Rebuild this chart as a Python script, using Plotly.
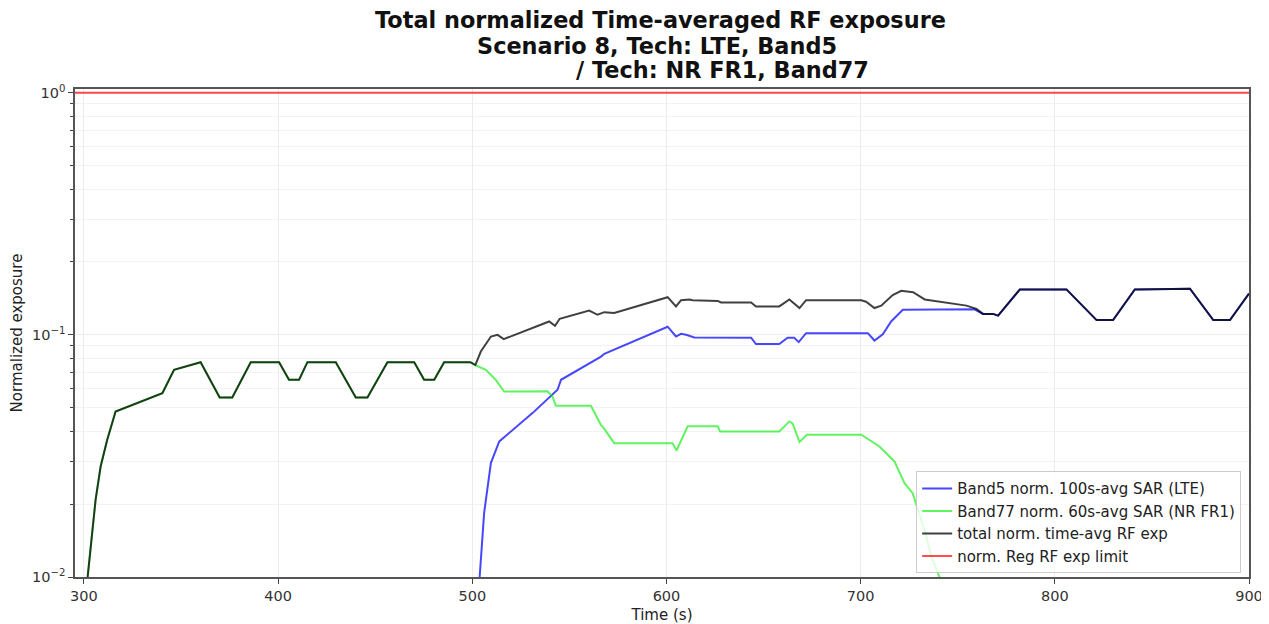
import plotly.graph_objects as go

# ---------------- data ----------------
total_t = [301.0, 306.0, 308.6, 312.0, 316.3, 340.4, 346.4, 360.1, 369.9, 376.4,
           385.9, 400.5, 405.6, 410.8, 415.1, 429.7, 440.0, 446.0, 456.3, 470.1,
           475.2, 480.4, 485.5, 499.0, 501.6, 504.4, 509.6, 513.0, 516.2, 539.6,
           542.6, 545.0, 560.2, 564.5, 568.0, 573.1, 600.6, 604.9, 607.5, 611.8,
           613.5, 626.4, 628.1, 643.6, 646.1, 658.1, 663.3, 668.5, 671.9, 700.3,
           702.8, 707.1, 710.6, 716.5, 720.9, 727.0, 733.0, 754.5, 759.6, 763.0,
           768.2, 770.8, 782.0, 806.0, 821.5, 830.0, 841.2, 866.2, 869.6, 881.6,
           890.2, 900.0]
total_v = [0.0085, 0.0208, 0.0286, 0.0369, 0.0482, 0.0574, 0.0717, 0.0771, 0.0551, 0.0551,
           0.0771, 0.0771, 0.0652, 0.0652, 0.0771, 0.0771, 0.0551, 0.0551, 0.0771, 0.0771,
           0.0652, 0.0652, 0.0771, 0.0771, 0.0752, 0.0853, 0.0984, 0.1000, 0.0960, 0.1135,
           0.1090, 0.1165, 0.1260, 0.1210, 0.1240, 0.1230, 0.1430, 0.1310, 0.1390, 0.1400,
           0.1390, 0.1380, 0.1360, 0.1360, 0.1310, 0.1310, 0.1400, 0.1290, 0.1390, 0.1390,
           0.1370, 0.1290, 0.1320, 0.1460, 0.1520, 0.1500, 0.1400, 0.1320, 0.1280, 0.1220,
           0.1220, 0.1200, 0.1540, 0.1540, 0.1150, 0.1150, 0.1540, 0.1540, 0.1550, 0.1150,
           0.1150, 0.1480]

band5_t = [503.4, 506.1, 509.6, 513.9, 531.0, 543.9, 545.7, 566.3, 568.0, 600.6,
           604.9, 607.5, 610.1, 614.4, 643.6, 646.1, 658.1, 662.4, 665.8, 668.1,
           671.9, 703.7, 707.1, 711.4, 715.7, 721.7, 758.6, 763.0, 768.2, 770.8,
           782.0, 806.0, 821.5, 830.0, 841.2, 866.2, 869.6, 881.6, 890.2, 900.0]
band5_v = [0.0090, 0.0184, 0.0296, 0.0363, 0.0475, 0.0593, 0.0652, 0.0813, 0.0835, 0.1080,
           0.0984, 0.1010, 0.1000, 0.0975, 0.0973, 0.0916, 0.0916, 0.0973, 0.0973, 0.0933,
           0.1016, 0.1016, 0.0947, 0.1005, 0.1135, 0.1270, 0.1275, 0.1220, 0.1220, 0.1200,
           0.1540, 0.1540, 0.1150, 0.1150, 0.1540, 0.1540, 0.1550, 0.1150, 0.1150, 0.1480]

band77_t = [301.0, 306.0, 308.6, 312.0, 316.3, 340.4, 346.4, 360.1, 369.9, 376.4,
            385.9, 400.5, 405.6, 410.8, 415.1, 429.7, 440.0, 446.0, 456.3, 470.1,
            475.2, 480.4, 485.5, 499.0, 501.0, 507.0, 512.1, 516.4, 538.7, 541.3,
            543.0, 561.1, 566.2, 567.9, 573.1, 603.1, 605.2, 607.5, 610.9, 626.4,
            627.6, 658.1, 663.3, 665.0, 668.5, 672.3, 700.3, 709.7, 717.4, 722.6,
            726.8, 733.4, 736.3, 740.6, 742.0]
band77_v = [0.0085, 0.0208, 0.0286, 0.0369, 0.0482, 0.0574, 0.0717, 0.0771, 0.0551, 0.0551,
            0.0771, 0.0771, 0.0652, 0.0652, 0.0771, 0.0771, 0.0551, 0.0551, 0.0771, 0.0771,
            0.0652, 0.0652, 0.0771, 0.0771, 0.0752, 0.0717, 0.0652, 0.0583, 0.0585, 0.0557,
            0.0509, 0.0509, 0.0425, 0.0410, 0.0357, 0.0357, 0.0333, 0.0366, 0.0419, 0.0419,
            0.0399, 0.0399, 0.0439, 0.0430, 0.0361, 0.0387, 0.0387, 0.0346, 0.0300, 0.0244,
            0.0222, 0.0151, 0.0122, 0.0100, 0.0090]

limit_t = [295.4, 900.0]
limit_v = [1.0, 1.0]

x_ticks = [300, 400, 500, 600, 700, 800, 900]
y_ticks = [0.01, 0.1, 1.0]
y_tick_text = ["10<sup>\u22122</sup>", "10<sup>\u22121</sup>", "10<sup>0</sup>"]
y_minor = [m * d for d in (0.01, 0.1) for m in range(2, 10)]

names = ["Band5 norm. 100s-avg SAR (LTE)", "Band77 norm. 60s-avg SAR (NR FR1)",
         "total norm. time-avg RF exp", "norm. Reg RF exp limit"]

title_lines = ["Total normalized Time-averaged RF exposure",
               "Scenario 8, Tech: LTE, Band5",
               "/ Tech: NR FR1, Band77"]

FONT = "DejaVu Sans"

fig = go.Figure()
fig.add_trace(go.Scatter(x=band5_t, y=band5_v, mode="lines", name=names[0],
                         line=dict(color="rgba(0,0,255,0.72)", width=2)))
fig.add_trace(go.Scatter(x=band77_t, y=band77_v, mode="lines", name=names[1],
                         line=dict(color="rgba(0,235,0,0.62)", width=2)))
fig.add_trace(go.Scatter(x=total_t, y=total_v, mode="lines", name=names[2],
                         line=dict(color="rgba(0,0,0,0.75)", width=2)))
fig.add_trace(go.Scatter(x=limit_t, y=limit_v, mode="lines", name=names[3],
                         line=dict(color="rgba(255,0,0,0.7)", width=2)))

# title, one annotation per line (third line is offset to the right as in the source)
title_pos = [(0.4991, 1.1414), (0.4957, 1.0881), (0.5512, 1.0389)]
for txt, (px, py) in zip(title_lines, title_pos):
    fig.add_annotation(text="<b>" + txt + "</b>", xref="paper", yref="paper",
                       x=px, y=py, xanchor="center", yanchor="middle",
                       showarrow=False, font=dict(family=FONT, size=22.4, color="#111"))

# the page adds an 8px body margin, so the figure is 8px smaller and margins shifted
fig.update_layout(
    width=1261, height=616,
    margin=dict(l=67, r=20, t=81, b=47, autoexpand=False),
    paper_bgcolor="white", plot_bgcolor="white",
    font=dict(family=FONT, size=14, color="#222"),
    showlegend=True,
    legend=dict(x=0.7165, y=0.2165, xanchor="left", yanchor="top",
                bgcolor="rgba(255,255,255,0.8)", bordercolor="#cccccc", borderwidth=1,
                font=dict(family=FONT, size=15, color="#222"), itemwidth=30,
                tracegroupgap=0),
    xaxis=dict(range=[295.4, 900], tickvals=x_ticks, ticks="outside", ticklen=5,
               tickcolor="#444", showline=True, linecolor="#555", linewidth=1.5,
               mirror=True, showgrid=True, gridcolor="#ececec", gridwidth=1,
               zeroline=False, automargin=False,
               title=dict(text="Time (s)", standoff=6, font=dict(size=15, color="#222")),
               tickfont=dict(size=14.5, color="#333")),
    yaxis=dict(type="log", range=[-2, 0.015], tickmode="array", tickvals=y_ticks,
               ticktext=y_tick_text, ticks="outside", ticklen=5, tickcolor="#444",
               showline=True, linecolor="#555", linewidth=1.5, mirror=True,
               showgrid=True, gridcolor="#ececec", gridwidth=1, zeroline=False,
               automargin=False,
               title=dict(text="Normalized exposure", standoff=8,
                          font=dict(size=15, color="#222")),
               tickfont=dict(size=14.5, color="#333"),
               minor=dict(tickmode="array", tickvals=y_minor, ticks="outside",
                          ticklen=3, tickcolor="#444", showgrid=True,
                          gridcolor="#f2f2f2", gridwidth=1)),
)

fig.write_html("out.html")
